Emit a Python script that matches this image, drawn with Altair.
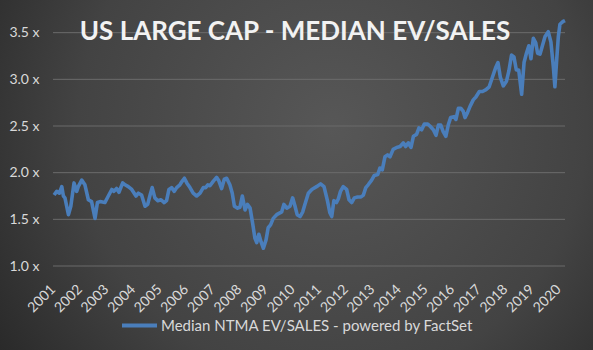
import altair as alt
import pandas as pd

title_text = "US LARGE CAP - MEDIAN EV/SALES"
series_name = "Median NTMA EV/SALES - powered by FactSet"

decimal_year = [
    2001.04, 2001.14, 2001.24, 2001.33, 2001.39, 2001.45, 2001.58, 2001.67, 2001.79, 2001.89, 2001.95,
    2002.08, 2002.20, 2002.33, 2002.45, 2002.58, 2002.67, 2002.77, 2002.95,
    2003.08, 2003.21, 2003.29, 2003.39, 2003.48, 2003.62, 2003.71, 2003.83, 2003.96,
    2004.12, 2004.21, 2004.33, 2004.46, 2004.56, 2004.65, 2004.73, 2004.83, 2004.94,
    2005.06, 2005.18, 2005.27, 2005.36, 2005.46, 2005.56, 2005.65, 2005.77, 2005.86, 2005.94,
    2006.03, 2006.15, 2006.27, 2006.40, 2006.53, 2006.65, 2006.74, 2006.82, 2006.90,
    2007.03, 2007.15, 2007.24, 2007.34, 2007.44, 2007.53, 2007.65, 2007.74, 2007.82, 2007.94,
    2008.03, 2008.12, 2008.22, 2008.31, 2008.41, 2008.51, 2008.59, 2008.66, 2008.74, 2008.82, 2008.91,
    2009.01, 2009.09, 2009.18, 2009.28, 2009.41, 2009.60, 2009.68, 2009.79, 2009.91,
    2010.01, 2010.10, 2010.18, 2010.29, 2010.39, 2010.47, 2010.60, 2010.73, 2010.91,
    2011.06, 2011.19, 2011.31, 2011.41, 2011.48, 2011.56, 2011.66, 2011.73, 2011.81, 2011.91,
    2012.04, 2012.13, 2012.23, 2012.33, 2012.45, 2012.58, 2012.67, 2012.76, 2012.85, 2012.98,
    2013.08, 2013.21, 2013.29, 2013.38, 2013.48, 2013.58, 2013.67, 2013.79, 2013.92,
    2014.05, 2014.17, 2014.26, 2014.36, 2014.46, 2014.55, 2014.67, 2014.76, 2014.86, 2014.96,
    2015.09, 2015.17, 2015.30, 2015.40, 2015.49, 2015.58, 2015.67, 2015.77, 2015.86, 2015.95,
    2016.08, 2016.15, 2016.24, 2016.33, 2016.42, 2016.49, 2016.58, 2016.68, 2016.80, 2016.90,
    2017.03, 2017.15, 2017.28, 2017.40, 2017.53, 2017.65, 2017.73, 2017.82, 2017.93,
    2018.05, 2018.14, 2018.24, 2018.33, 2018.42, 2018.51, 2018.62, 2018.71, 2018.80, 2018.89, 2018.97,
    2019.06, 2019.15, 2019.22, 2019.31, 2019.39, 2019.50, 2019.62, 2019.72, 2019.81, 2019.87, 2019.94,
    2020.00, 2020.06, 2020.18, 2020.25,
]

ev_sales = [
    1.76, 1.80, 1.78, 1.85, 1.75, 1.73, 1.55, 1.64, 1.89, 1.80, 1.85,
    1.92, 1.87, 1.71, 1.69, 1.51, 1.68, 1.69, 1.68,
    1.75, 1.82, 1.80, 1.83, 1.79, 1.89, 1.87, 1.85, 1.82,
    1.75, 1.78, 1.76, 1.64, 1.66, 1.76, 1.84, 1.73, 1.70,
    1.71, 1.68, 1.70, 1.82, 1.84, 1.80, 1.84, 1.87, 1.91, 1.94,
    1.89, 1.84, 1.78, 1.75, 1.78, 1.84, 1.84, 1.87, 1.86,
    1.91, 1.95, 1.91, 1.83, 1.93, 1.94, 1.87, 1.78, 1.64, 1.62,
    1.63, 1.75, 1.60, 1.66, 1.62, 1.45, 1.30, 1.25, 1.34, 1.26, 1.19,
    1.28, 1.41, 1.44, 1.51, 1.55, 1.58, 1.66, 1.62, 1.64,
    1.73, 1.64, 1.55, 1.53, 1.58, 1.66, 1.78, 1.82, 1.85,
    1.88, 1.85, 1.71, 1.57, 1.53, 1.70, 1.68, 1.72, 1.80, 1.85,
    1.82, 1.71, 1.68, 1.73, 1.74, 1.74, 1.76, 1.84, 1.87, 1.92,
    1.97, 1.98, 2.05, 2.03, 2.17, 2.19, 2.17, 2.25, 2.27,
    2.28, 2.32, 2.28, 2.32, 2.27, 2.39, 2.41, 2.48, 2.46, 2.52,
    2.52, 2.50, 2.46, 2.40, 2.51, 2.51, 2.44, 2.39, 2.51, 2.59,
    2.60, 2.57, 2.69, 2.69, 2.66, 2.59, 2.64, 2.71, 2.78, 2.81,
    2.87, 2.87, 2.89, 2.92, 3.03, 3.13, 3.18, 3.02, 2.93,
    2.98, 3.09, 3.26, 3.24, 3.10, 3.10, 2.84, 3.18, 3.28, 3.36, 3.22,
    3.44, 3.39, 3.28, 3.27, 3.35, 3.46, 3.51, 3.40, 3.14, 2.92, 3.22,
    3.46, 3.59, 3.62, 3.63,
]

year_ticks = list(range(2001, 2021))
grid_levels = [1.0, 1.5, 2.0, 2.5, 3.0, 3.5]

df = pd.DataFrame({"t": decimal_year, "v": ev_sales, "s": series_name})
grid_df = pd.DataFrame({"v": grid_levels})

W, H = 512, 252
PAD_L, PAD_T, PAD_R, PAD_B = 53, 14, 28, 84
FONT = "Lato"

x_scale = alt.Scale(domain=[2001, 2020.25], nice=False, zero=False)
y_scale = alt.Scale(domain=[1.0, 3.7], nice=False, zero=False)

y_axis = alt.Axis(
    values=grid_levels, labelExpr="format(datum.value, '.1f') + ' x'",
    title=None, domain=False, ticks=False, grid=False, labelPadding=14,
    labelFont=FONT, labelFontSize=14, labelColor="#d9d9d9", zindex=1,
)

bg = alt.Chart(alt.Data(values=[{"k": 1}])).mark_rect(
    fill=alt.RadialGradient(
        gradient="radial",
        stops=[
            alt.GradientStop(offset=0, color="#575757"),
            alt.GradientStop(offset=0.55, color="#434343"),
            alt.GradientStop(offset=1, color="#1f1f1f"),
        ],
        x1=0.56, y1=0.42, r1=0,
        x2=0.56, y2=0.42, r2=0.78,
    )
).encode(
    x=alt.value(-PAD_L), x2=alt.value(W + PAD_R),
    y=alt.value(-PAD_T), y2=alt.value(H + PAD_B),
)

grid = alt.Chart(grid_df).mark_rule(color="#6b6b6b", strokeWidth=1).encode(
    y=alt.Y("v:Q", scale=y_scale, axis=y_axis)
)

line = alt.Chart(df).mark_line(strokeWidth=3.6, strokeJoin="round").encode(
    x=alt.X(
        "t:Q", scale=x_scale,
        axis=alt.Axis(
            values=year_ticks, format="d", labelAngle=-45, title=None,
            labelAlign="right", labelBaseline="middle",
            domain=False, ticks=False, grid=False, labelPadding=21,
            labelFont=FONT, labelFontSize=14, labelColor="#d9d9d9", zindex=1,
            labelOverlap=False,
        ),
    ),
    y=alt.Y("v:Q", scale=y_scale, axis=y_axis),
    color=alt.Color(
        "s:N", scale=alt.Scale(range=["#4a7ebb"]),
        legend=alt.Legend(
            title=None, orient="none", legendX=67, legendY=292,
            symbolType="stroke", symbolSize=1225, symbolStrokeWidth=4,
            labelFont=FONT, labelFontSize=15, labelColor="#d9d9d9",
            labelOffset=2, labelLimit=0, zindex=1,
        ),
    ),
)

chart = alt.layer(bg, grid, line).properties(
    width=W, height=H,
    autosize="none",
    padding={"left": PAD_L, "top": PAD_T, "right": PAD_R, "bottom": PAD_B},
    title=alt.Title(
        title_text, font=FONT, fontSize=26, fontWeight="bold", color="#f2f2f2",
        anchor="middle", offset=-45, dx=-14, zindex=1,
    ),
).configure(background="#333333").configure_view(stroke=None)

chart.save("out.html", embed_options={"renderer": "svg", "actions": False})
